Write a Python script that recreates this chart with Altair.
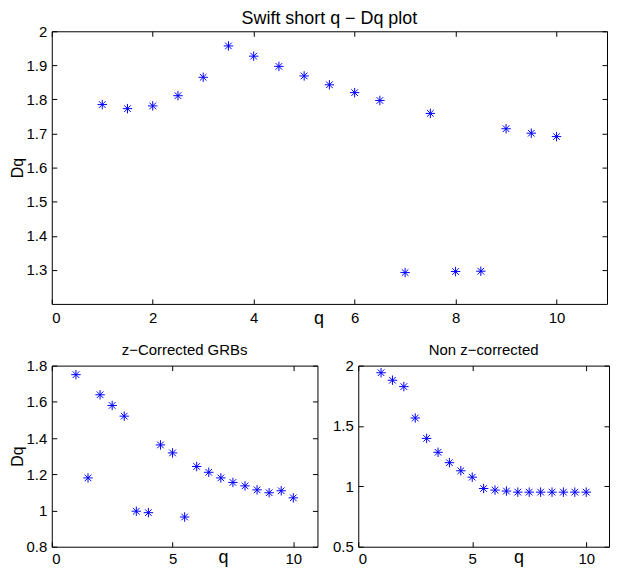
import altair as alt
import pandas as pd

Q = [1.0, 1.5, 2.0, 2.5, 3.0, 3.5, 4.0, 4.5, 5.0, 5.5,
     6.0, 6.5, 7.0, 7.5, 8.0, 8.5, 9.0, 9.5, 10.0]

DQ_SWIFT = [1.785, 1.773, 1.781, 1.811, 1.865, 1.957, 1.927, 1.897, 1.869, 1.843,
            1.820, 1.797, 1.292, 1.759, 1.295, 1.296, 1.714, 1.701, 1.691]
DQ_ZCORR = [1.750, 1.180, 1.639, 1.580, 1.521, 0.996, 0.988, 1.362, 1.318, 0.964,
            1.243, 1.211, 1.180, 1.155, 1.136, 1.114, 1.098, 1.109, 1.070]
DQ_NONZ = [1.941, 1.879, 1.826, 1.566, 1.397, 1.282, 1.196, 1.129, 1.076, 0.982,
           0.969, 0.961, 0.952, 0.952, 0.952, 0.952, 0.952, 0.952, 0.952]

SWIFT_X_TICKS = [0, 2, 4, 6, 8, 10]
SMALL_X_TICKS = [0, 5, 10]
SWIFT_Y_TICKS = [1.3, 1.4, 1.5, 1.6, 1.7, 1.8, 1.9, 2.0]
ZCORR_Y_TICKS = [0.8, 1.0, 1.2, 1.4, 1.6, 1.8]
NONZ_Y_TICKS = [0.5, 1.0, 1.5, 2.0]

FONT = "Liberation Sans"
BLUE = "#0000ff"
STAR = "M-1,0L1,0M0,-1L0,1M-0.7,-0.7L0.7,0.7M-0.7,0.7L0.7,-0.7"


def panel(values, title, title_size, title_offset, x_ticks, y_ticks, y_domain,
          width, height, y_title, q_x, q_y, x_pad):
    df = pd.DataFrame({"q": Q, "dq": values})
    xs = alt.Scale(domain=[0, 11], nice=False, zero=False)
    ys = alt.Scale(domain=y_domain, nice=False, zero=False)
    # matlab-style ticks pointing into the box
    inward = dict(domain=False, grid=False, ticks=True, tickSize=5, offset=-5,
                  tickColor="black", tickWidth=1, minExtent=0)

    stars = alt.Chart(df).mark_point(
        shape=STAR, size=90, filled=False, color=BLUE, strokeWidth=1, opacity=1
    ).encode(
        x=alt.X("q:Q", scale=xs, axis=alt.Axis(
            orient="bottom", values=x_ticks, format="d", labelPadding=x_pad,
            labelFont=FONT, labelFontSize=15, labelColor="black",
            title="q", titleFont=FONT, titleFontSize=18, titleFontWeight="normal",
            titleColor="black", titleX=q_x, titleY=q_y, titleAlign="center",
            titleBaseline="alphabetic", **inward)),
        y=alt.Y("dq:Q", scale=ys, axis=alt.Axis(
            orient="left", values=y_ticks, format=".1~f", labelPadding=5,
            labelFont=FONT, labelFontSize=15, labelColor="black",
            title=y_title, titleFont=FONT, titleFontSize=16, titleFontWeight="normal",
            titleColor="black", titlePadding=1, **inward)),
    )

    frame = alt.Chart(df).mark_point(opacity=0).encode(
        x=alt.X("q:Q", scale=xs, axis=alt.Axis(
            orient="top", values=x_ticks, labels=False, title="", titlePadding=0,
            **inward)),
        y=alt.Y("dq:Q", scale=ys, axis=alt.Axis(
            orient="right", values=y_ticks, labels=False, title="", titlePadding=0,
            **inward)),
    )

    return alt.layer(stars, frame).resolve_axis(x="independent", y="independent").properties(
        width=width, height=height,
        title=alt.TitleParams(title, font=FONT, fontSize=title_size, fontWeight="normal",
                              color="black", offset=title_offset, anchor="middle",
                              frame="group"),
    )


top = panel(DQ_SWIFT, "Swift short q \u2212 Dq plot", 18, -4, SWIFT_X_TICKS, SWIFT_Y_TICKS,
            [1.2, 2.0], 558, 274, "Dq", 268, 25, 7)
left = panel(DQ_ZCORR, "z\u2212Corrected GRBs", 15, 1, SMALL_X_TICKS, ZCORR_Y_TICKS,
             [0.8, 1.8], 267, 182, "Dq", 172, 21, 5)
right = panel(DQ_NONZ, "Non z\u2212corrected", 15, 1, SMALL_X_TICKS, NONZ_Y_TICKS,
              [0.5, 2.0], 252, 182, "", 161, 21, 5)

chart = alt.vconcat(
    top,
    alt.hconcat(left, right, spacing=13),
    spacing=13,
).properties(padding=0, background="white").configure_view(stroke="black", strokeWidth=1)

chart.save("out.html", embed_options={"renderer": "svg", "actions": False})
